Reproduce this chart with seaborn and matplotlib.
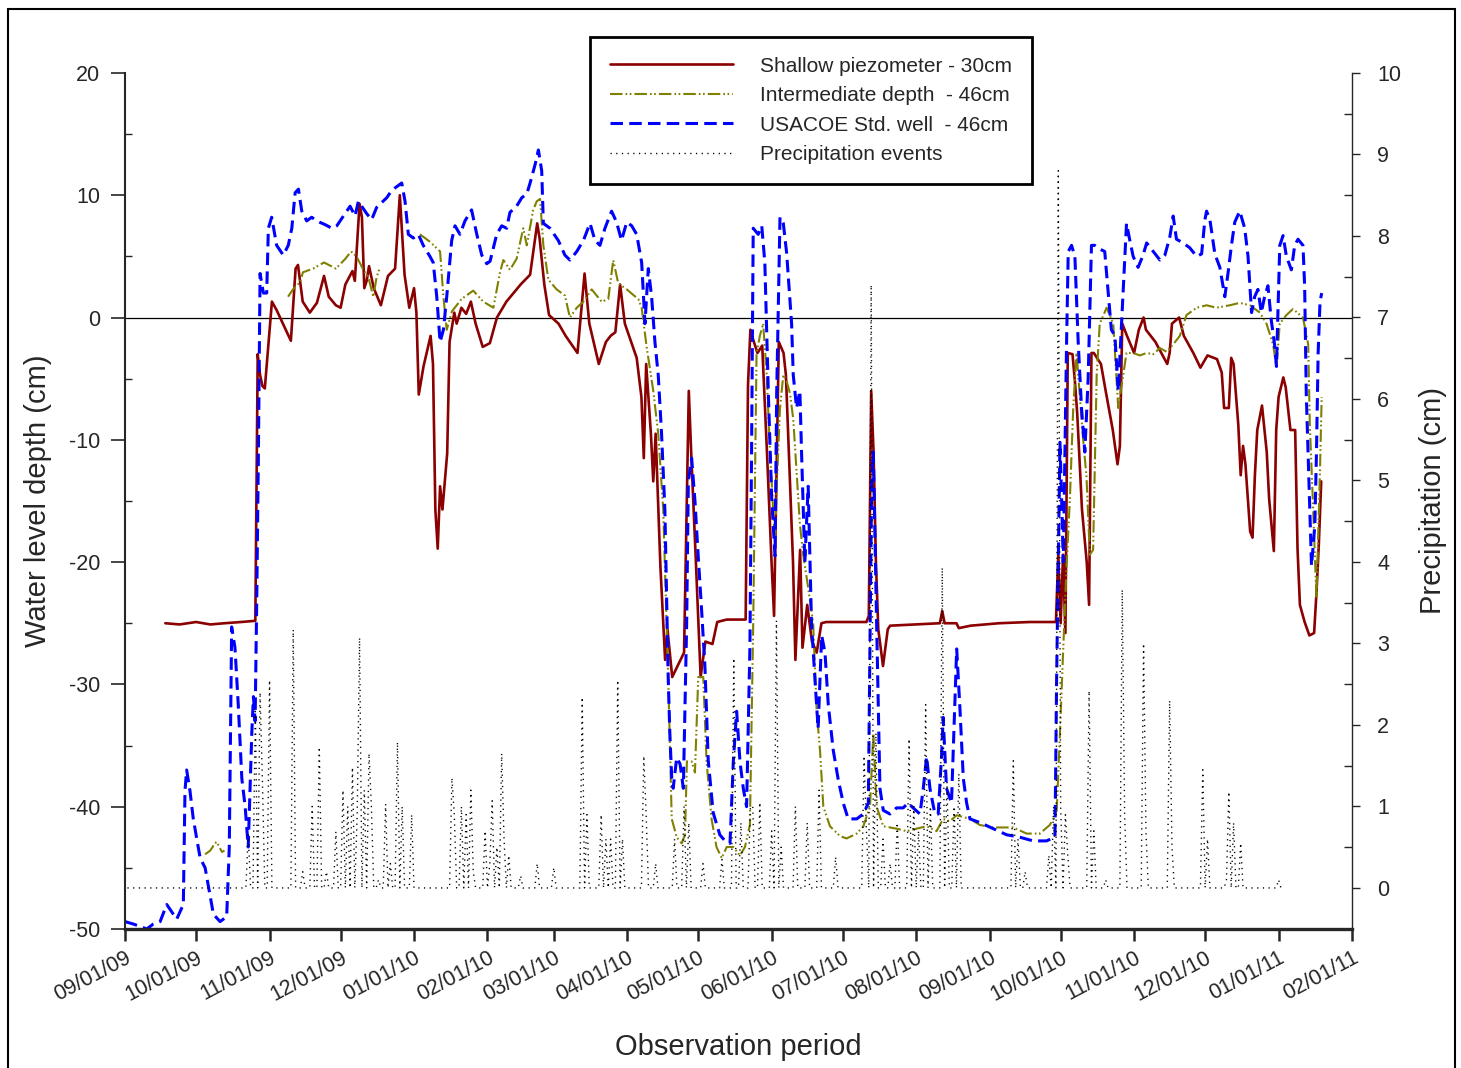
import pandas as pd
import numpy as np
import matplotlib
matplotlib.use('Agg')
import matplotlib.pyplot as plt
from matplotlib.ticker import MultipleLocator, FixedLocator
from matplotlib.lines import Line2D
from matplotlib.patches import Rectangle
import seaborn as sns

sns.set_style('ticks')
plt.rcParams['font.family'] = ['Liberation Sans', 'DejaVu Sans']
plt.rcParams['lines.scale_dashes'] = False
plt.rcParams['axes.unicode_minus'] = False

# days counted from 09/01/09
start = pd.Timestamp('2009-09-01')

# Shallow piezometer - 30cm
shallow_day = [17, 23, 30, 36, 42, 49, 55, 56, 57, 58, 59, 62, 64, 70, 72, 73, 75, 78, 81, 84, 86, 89, 91,
               93, 96, 97, 99, 100, 101, 102, 103, 105, 108, 111, 114, 116, 118, 120, 122, 123, 124, 126, 129,
               130, 131, 132, 133, 134, 136, 137, 139, 140, 142, 144, 146, 148, 151, 154, 157, 161, 167, 171,
               174, 175, 177, 179, 183, 186, 191, 194, 196, 200, 203, 205, 207, 209, 211, 216, 218, 219, 220,
               222, 223, 224, 226, 228, 229, 231, 234, 236, 238, 239, 241, 243, 245, 248, 250, 254, 262, 263,
               264, 265, 267, 269, 271, 273, 274, 276, 278, 279, 282, 283, 285, 286, 288, 290, 292, 294, 296,
               313, 314, 315, 316, 317, 318, 320, 322, 323, 344, 345, 346, 351, 352, 357, 369, 382, 393, 394,
               395, 396, 397, 398, 400, 401, 402, 404, 406, 407, 408, 409, 412, 414, 417, 419, 420, 421, 423,
               426, 428, 430, 431, 435, 440, 441, 442, 445, 447, 451, 454, 457, 461, 463, 464, 466, 467, 468,
               470, 471, 472, 473, 475, 476, 477, 478, 480, 482, 483, 485, 486, 487, 489, 490, 492, 494, 495,
               496, 498, 500, 502, 503, 504, 505]
shallow_cm = [-25.0, -25.1, -24.9, -25.1, -25.0, -24.9, -24.8, -3.0, -4.7, -5.6, -5.8, 1.3, 0.6, -1.9, 4.0,
              4.3, 1.3, 0.4, 1.2, 3.4, 1.7, 1.0, 0.8, 2.7, 3.8, 3.0, 9.3, 8.2, 2.4, 3.0, 4.2, 2.4, 1.0, 3.4,
              4.0, 10.0, 3.5, 0.8, 2.4, 0.4, -6.3, -4.0, -1.5, -3.8, -15.7, -18.9, -13.8, -15.7, -11.1, -2.0,
              0.4, -0.5, 0.8, 0.3, 1.3, -0.5, -2.4, -2.1, 0.0, 1.3, 2.7, 3.5, 7.7, 6.5, 2.7, 0.2, -0.5, -1.5,
              -2.9, 3.6, -0.5, -3.8, -2.0, -1.5, -1.2, 2.7, -0.5, -3.3, -6.5, -11.5, -3.8, -9.5, -13.4, -9.5,
              -20.3, -28.0, -25.5, -29.4, -28.2, -27.4, -6.0, -11.0, -20.0, -29.4, -26.5, -26.7, -24.9, -24.7,
              -24.7, -5.5, -1.0, -1.7, -2.9, -2.3, -11.0, -20.3, -24.4, -2.0, -2.9, -4.7, -20.0, -28.0, -19.0,
              -27.0, -23.5, -26.5, -27.4, -25.0, -24.9, -24.9, -24.4, -6.0, -11.0, -20.0, -25.5, -28.5, -25.5,
              -25.2, -25.0, -24.0, -25.0, -25.0, -25.4, -25.2, -25.0, -24.9, -24.9, -19.4, -25.0, -19.4, -25.8,
              -2.9, -3.0, -5.2, -7.9, -15.7, -20.0, -23.5, -2.9, -2.9, -3.8, -6.0, -9.2, -12.0, -10.5, -0.5,
              -1.5, -2.9, -1.0, 0.0, -1.0, -2.0, -3.8, -2.9, -0.5, 0.0, -1.5, -2.9, -4.1, -3.1, -3.4, -4.5,
              -7.4, -7.4, -3.3, -3.8, -8.8, -12.9, -10.5, -12.0, -17.5, -18.0, -12.9, -9.2, -7.2, -11.0, -14.8,
              -19.1, -9.2, -6.5, -4.9, -5.7, -9.2, -9.2, -18.9, -23.5, -24.9, -26.0, -25.8, -22.5, -18.5, -13.4]

# Intermediate depth - 46cm (three recorded stretches)
inter_seg = [1] * 8 + [2] * 15 + [3] * 151
inter_day = [33.8, 35.9, 37.0, 37.6, 38.8, 39.5, 40.9, 42.0,
             68.8, 70.9, 73.9, 75.1, 79.4, 84.0, 89.0, 93.0, 95.4, 97.7, 100.6, 102.7, 104.8, 106.2, 107.6,
             124.5, 128.7, 133.0, 134.4, 135.8, 138.0, 142.0, 147.0, 151.2, 155.5, 158.3, 159.7, 162.5, 165.3,
             168.1, 169.6, 172.3, 173.8, 175.2, 176.6, 178.7, 182.2, 185.7, 187.8, 190.7, 193.5, 197.0, 201.2,
             204.0, 206.1, 208.2, 211.8, 216.7, 218.1, 220.2, 223.0, 225.1, 227.2, 228.6, 229.3, 230.8, 232.9,
             235.0, 236.4, 237.2, 239.2, 240.6, 242.0, 244.1, 245.5, 247.6, 249.7, 251.9, 254.0, 256.8, 259.6,
             261.7, 263.8, 265.2, 266.6, 268.0, 269.4, 270.9, 272.3, 274.4, 275.1, 276.5, 277.9, 279.3, 280.7,
             282.1, 284.9, 286.3, 288.4, 290.5, 292.0, 293.4, 294.8, 297.6, 301.8, 304.6, 308.9, 311.7, 314.5,
             315.9, 317.3, 320.1, 325.7, 329.9, 334.2, 338.4, 342.6, 345.4, 348.2, 351.1, 356.7, 360.9, 366.5,
             375.0, 380.6, 386.2, 390.4, 393.3, 394.7, 396.1, 397.5, 398.9, 400.3, 401.7, 403.1, 404.5, 405.9,
             407.3, 408.7, 410.2, 411.5, 414.4, 417.2, 419.3, 421.4, 422.8, 425.6, 428.4, 431.3, 434.1, 436.9,
             439.7, 442.5, 445.3, 448.1, 452.4, 456.6, 460.8, 466.4, 470.6, 474.9, 479.1, 481.9, 484.7, 486.1,
             487.5, 490.3, 493.1, 497.3, 499.5, 500.2, 501.6, 503.0, 503.7, 504.5, 505.2]
inter_cm = [-43.9, -43.6, -43.3, -43.0, -42.9, -43.2, -43.7, -43.6,
            1.7, 2.3, 2.9, 3.7, 4.0, 4.5, 4.0, 4.8, 5.4, 5.0, 3.9, 3.3, 1.7, 3.3, 4.1,
            6.8, 6.2, 5.4, 1.7, -1.0, 0.5, 1.5, 2.2, 1.3, 0.8, 3.7, 4.7, 3.9, 4.8, 7.3, 5.9, 8.8, 9.5, 9.7,
            5.9, 3.1, 2.3, 1.8, 0.0, 0.8, 1.3, 2.3, 1.3, 1.5, 4.7, 2.8, 2.3, 1.5, 0.8, -2.4, -6.0, -9.5,
            -15.7, -25.0, -29.4, -41.0, -42.5, -43.0, -42.3, -36.3, -36.3, -37.2, -29.4, -29.4, -36.3, -41.0,
            -43.3, -44.2, -43.3, -43.3, -44.0, -43.3, -41.5, -25.0, -3.0, -1.5, -0.5, -4.7, -11.0, -18.5,
            -14.0, -7.4, -4.7, -5.2, -6.2, -8.3, -16.9, -19.4, -22.1, -25.0, -32.2, -35.4, -40.0, -41.6,
            -42.4, -42.6, -42.2, -41.6, -40.0, -34.0, -40.0, -41.6, -41.8, -42.0, -41.8, -41.6, -42.0, -41.0,
            -41.2, -40.7, -41.0, -41.5, -41.7, -41.7, -42.2, -42.2, -41.5, -40.5, -34.0, -27.0, -20.3, -14.8,
            -7.4, -2.9, -6.5, -10.0, -13.0, -19.4, -19.0, -4.7, -0.5, 0.8, -0.5, -7.4, -4.7, -2.9, -2.9,
            -3.1, -2.9, -3.0, -2.5, -2.8, -2.2, -1.5, 0.2, 0.8, 1.0, 0.8, 1.0, 1.2, 1.0, 0.4, -0.5, -2.2,
            -4.1, -0.5, 0.2, 0.7, 0.0, -2.2, -8.8, -15.7, -23.0, -18.0, -12.3, -6.5]

# USACOE Std. well - 46cm
usacoe_day = [0.0, 3.5, 9.2, 11.9, 14.8, 17.6, 19.7, 21.8, 23.2, 24.6, 25.3, 26.0, 27.4, 28.8, 31.7, 33.8,
              35.2, 37.3, 40.1, 42.9, 44.0, 45.0, 46.4, 47.8, 49.3, 50.7, 52.0, 53.5, 54.2, 54.9, 55.6, 56.3,
              57.0, 58.4, 59.8, 60.5, 61.9, 64.0, 66.8, 68.9, 70.4, 71.8, 73.2, 74.6, 76.7, 78.8, 80.9, 84.4,
              87.3, 89.4, 90.8, 92.9, 95.0, 97.1, 98.5, 102.0, 104.1, 106.2, 110.5, 112.6, 116.8, 118.2, 119.6,
              121.7, 123.8, 125.9, 128.7, 130.1, 131.6, 133.0, 134.4, 135.8, 137.9, 139.3, 141.4, 143.5, 146.3,
              148.5, 150.6, 152.7, 154.1, 156.9, 159.0, 161.1, 162.5, 165.3, 167.5, 169.6, 171.0, 173.1, 174.5,
              175.9, 176.6, 179.4, 182.9, 185.7, 187.8, 190.7, 193.5, 196.3, 198.4, 200.5, 202.6, 205.4, 207.5,
              209.6, 211.8, 213.9, 216.0, 218.1, 219.5, 220.9, 222.3, 223.7, 225.1, 226.5, 227.9, 229.3, 230.0,
              230.8, 231.4, 232.9, 234.3, 235.7, 237.1, 237.8, 239.2, 240.6, 242.0, 243.4, 244.8, 246.2, 248.3,
              251.1, 253.3, 255.4, 256.8, 258.2, 259.6, 261.0, 262.4, 263.8, 264.5, 265.2, 267.3, 268.8, 270.1,
              271.6, 273.0, 274.4, 275.1, 276.5, 277.9, 279.3, 281.4, 282.1, 283.5, 284.9, 285.6, 287.0, 288.4,
              289.8, 291.2, 292.6, 294.1, 295.5, 296.9, 299.0, 301.1, 303.2, 305.3, 308.9, 311.7, 313.8, 315.2,
              315.9, 317.3, 318.7, 320.1, 322.9, 325.7, 328.5, 330.6, 332.7, 335.6, 337.0, 338.4, 339.8, 341.9,
              343.3, 344.7, 345.4, 346.8, 348.9, 351.1, 352.4, 353.9, 355.3, 356.7, 360.9, 366.5, 372.2, 377.8,
              383.4, 389.0, 392.6, 393.3, 394.0, 394.7, 395.4, 396.1, 396.8, 397.5, 398.2, 399.6, 401.0, 402.4,
              403.8, 405.2, 406.6, 408.0, 409.4, 411.5, 413.6, 415.0, 416.4, 417.9, 419.3, 421.4, 422.8, 424.2,
              425.6, 427.7, 429.8, 431.3, 434.1, 436.9, 439.0, 441.1, 442.5, 443.9, 446.7, 449.5, 452.4, 454.5,
              455.9, 456.6, 458.0, 460.1, 462.2, 464.3, 465.7, 467.1, 468.5, 470.6, 472.7, 474.1, 475.6, 476.9,
              478.3, 479.7, 481.1, 482.5, 483.9, 485.3, 486.1, 487.5, 488.9, 490.3, 492.4, 493.8, 495.2, 497.3,
              498.0, 498.7, 500.2, 500.9, 502.3, 503.0, 503.7, 504.5, 505.2]
usacoe_cm = [-49.4, -49.6, -50.0, -49.6, -49.4, -48.0, -48.6, -49.2, -48.6, -48.0, -38.7, -37.0, -38.7, -41.0,
             -44.2, -45.0, -46.5, -48.8, -49.4, -49.0, -43.3, -25.3, -27.0, -31.7, -37.7, -40.0, -43.3, -34.0,
             -31.0, -33.0, -23.0, -11.0, 3.6, 2.0, 2.0, 7.3, 8.2, 5.9, 5.1, 5.9, 7.3, 10.2, 10.5, 8.7, 7.9, 8.2,
             7.9, 7.6, 7.3, 7.5, 7.9, 8.5, 9.1, 8.3, 9.5, 8.5, 8.0, 9.0, 9.8, 10.4, 11.0, 9.5, 6.8, 6.5, 6.8,
             5.9, 5.0, 4.5, 1.7, -2.0, -1.0, 1.7, 6.3, 7.5, 6.8, 7.9, 8.8, 6.8, 5.1, 4.4, 4.6, 6.8, 7.5, 7.3,
             8.6, 9.1, 9.8, 10.1, 11.0, 12.5, 13.7, 12.0, 7.7, 7.3, 6.3, 5.1, 4.7, 5.4, 6.3, 7.7, 6.3, 5.9, 7.3,
             8.7, 7.8, 6.3, 7.8, 7.5, 6.8, 4.5, -0.5, 4.0, 1.7, -2.0, -4.7, -9.5, -15.7, -29.4, -34.0, -37.7,
             -38.5, -36.0, -36.5, -38.5, -25.0, -13.4, -11.5, -15.0, -19.6, -23.9, -28.5, -36.2, -40.5, -42.3,
             -42.8, -43.0, -36.3, -32.2, -36.3, -38.5, -40.0, -27.0, -11.0, 7.3, 6.8, 7.5, 4.5, -6.3, -14.8,
             -19.5, -6.3, 8.2, 7.7, 5.3, -0.5, -4.7, -7.4, -6.0, -11.0, -20.0, -13.8, -25.0, -29.4, -33.6,
             -26.0, -27.4, -31.7, -35.4, -37.8, -39.7, -41.0, -41.0, -40.6, -39.7, -13.4, -11.0, -25.0, -38.5,
             -40.3, -40.6, -40.1, -40.1, -39.7, -40.1, -40.6, -38.5, -35.9, -38.5, -40.6, -40.6, -35.9, -32.7,
             -38.5, -39.7, -27.1, -31.7, -37.7, -39.7, -41.0, -41.3, -41.8, -42.3, -42.5, -42.8, -42.8, -42.5,
             -29.4, -20.0, -10.2, -14.8, -20.0, -11.0, -2.0, 5.4, 5.9, 5.0, -2.0, -7.4, -11.0, -5.0, 5.9, 5.9,
             5.6, 5.4, 2.2, -1.0, -1.5, -6.0, 2.2, 7.7, 6.3, 5.0, 4.1, 5.1, 6.1, 5.4, 4.7, 5.1, 6.6, 8.3, 6.4,
             6.1, 5.7, 5.0, 5.2, 8.0, 8.7, 8.0, 5.2, 4.1, 1.7, 3.7, 5.9, 7.8, 8.7, 7.3, 5.0, 0.4, 1.7, 2.3,
             0.4, 1.7, 2.6, -0.2, -2.2, -4.0, 5.9, 6.7, 5.0, 3.9, 5.9, 6.4, 5.9, 2.6, -6.3, -15.7, -20.3,
             -17.0, -11.0, -2.9, 1.3, 2.0]

# Precipitation events (cm), every other recorded day is 0
rain_day = [52, 55, 57, 58, 61, 71, 75, 79, 82, 85, 89, 92, 94, 96, 98, 99, 101, 103, 104, 107, 110, 112,
            115, 117, 121, 138, 139, 142, 144, 146, 147, 152, 154, 155, 157, 159, 160, 162, 167, 174, 181,
            193, 195, 201, 203, 205, 208, 210, 219, 220, 224, 232, 236, 238, 244, 252, 257, 260, 264, 265,
            268, 273, 275, 277, 283, 288, 293, 300, 312, 313, 315, 317, 320, 323, 326, 331, 333, 335, 338,
            340, 345, 347, 350, 352, 375, 377, 380, 390, 392, 394, 395, 397, 398, 407, 409, 414, 421, 422,
            430, 431, 441, 442, 455, 457, 465, 466, 468, 471, 487]
rain_cm = [0.66, 2.2, 2.4, 1.3, 2.55, 3.17, 0.2, 1.0, 1.73, 0.2, 0.69, 1.2, 1.0, 1.48, 0.9, 3.07, 1.2, 1.65,
           1.0, 0.1, 1.03, 0.3, 1.79, 1.0, 0.9, 1.35, 0.9, 1.0, 0.9, 1.2, 0.2, 0.7, 0.3, 1.07, 0.5, 1.65, 0.6,
           0.4, 0.15, 0.3, 0.25, 2.34, 0.9, 0.9, 0.6, 0.6, 2.55, 0.6, 1.62, 0.9, 0.3, 0.6, 1.0, 0.8, 0.3,
           0.35, 2.82, 0.8, 1.0, 1.0, 1.05, 0.7, 3.28, 0.5, 1.0, 0.8, 1.2, 0.38, 1.62, 0.7, 7.4, 1.9, 0.6,
           0.3, 0.8, 1.83, 1.0, 0.7, 2.25, 1.0, 3.93, 1.3, 1.0, 1.4, 1.56, 0.6, 0.2, 0.4, 1.0, 8.8, 1.0, 0.9,
           0.4, 2.42, 0.7, 0.1, 3.66, 0.9, 3.0, 0.7, 2.3, 0.5, 1.45, 0.6, 0.1, 1.18, 0.8, 0.55, 0.1]
rain_first, rain_last = 1, 488

month_ticks = pd.date_range('2009-09-01', '2011-02-01', freq='MS')


def to_dates(days):
    return start + pd.to_timedelta(np.asarray(days, dtype=float), unit='D')


shallow = pd.DataFrame({'date': to_dates(shallow_day), 'depth': shallow_cm})
inter = pd.DataFrame({'date': to_dates(inter_day), 'depth': inter_cm, 'seg': inter_seg})
usacoe = pd.DataFrame({'date': to_dates(usacoe_day), 'depth': usacoe_cm})
rain = pd.Series(rain_cm, index=rain_day).reindex(range(rain_first, rain_last + 1), fill_value=0.0)
precip = pd.DataFrame({'date': to_dates(rain.index), 'rain': rain.values})

red = '#8B0000'
olive = '#808000'
blue = '#0000FF'
ls_inter = (0, (9, 2.2, 1.2, 1.8, 1.2, 2.2))
ls_usacoe = (0, (9, 4.5))
ls_rain = (0, (0.9, 3.2))

fig = plt.figure(figsize=(14.61, 10.68), dpi=100)
ax = fig.add_axes([0.0856, 0.1302, 0.8398, 0.8015])
ax2 = ax.twinx()

# Precipitation on secondary axis
sns.lineplot(data=precip, x='date', y='rain', ax=ax2, color='black', lw=1.0,
             linestyle=ls_rain, estimator=None)

ax.axhline(0, color='black', lw=0.9, zorder=1)
sns.lineplot(data=shallow, x='date', y='depth', ax=ax, color=red, lw=1.9, estimator=None)
sns.lineplot(data=inter, x='date', y='depth', units='seg', estimator=None, ax=ax,
             color=olive, lw=1.5, linestyle=ls_inter)
sns.lineplot(data=usacoe, x='date', y='depth', ax=ax, color=blue, lw=2.2,
             linestyle=ls_usacoe, estimator=None)

# axes ranges and ticks
ax.set_xlim(start, pd.Timestamp('2011-02-01'))
ax.set_ylim(-50, 20)
ax2.set_ylim(-0.503, 10)

ax.set_xticks(month_ticks)
ax.set_xticklabels(month_ticks.strftime('%m/%d/%y'), rotation=28, ha='right',
                   rotation_mode='anchor')
ax.set_yticks(range(-50, 21, 10))
ax.yaxis.set_minor_locator(MultipleLocator(5))
ax2.set_yticks(range(0, 11))
ax2.yaxis.set_minor_locator(FixedLocator(np.arange(0.5, 10, 1.0)))

ax.tick_params(axis='x', which='major', direction='out', length=8.5, width=1.8, pad=5,
               labelsize=15.5, top=False)
ax.tick_params(axis='y', which='major', direction='out', length=10, width=1.2, pad=8,
               labelsize=15.5, right=False)
ax.tick_params(axis='y', which='minor', direction='in', length=5, width=1.0, right=False)
ax2.tick_params(axis='y', which='major', direction='out', length=6, width=1.0, pad=12,
                labelsize=15.5, left=False)
ax2.tick_params(axis='y', which='minor', direction='in', length=6, width=1.0, left=False)

for side in ['top', 'right']:
    ax.spines[side].set_visible(False)
for side in ['top', 'left', 'bottom']:
    ax2.spines[side].set_visible(False)
ax.spines['left'].set_linewidth(1.5)
ax.spines['bottom'].set_linewidth(2.4)
ax2.spines['right'].set_linewidth(1.0)

ax.set_xlabel('Observation period', fontsize=21)
ax.xaxis.set_label_coords(0.5, -0.121)
ax.set_ylabel('Water level depth (cm)', fontsize=21)
ax.yaxis.set_label_coords(-0.0595, 0.5)
ax2.set_xlabel('')
ax2.set_ylabel('Precipitation (cm)', fontsize=21)
ax2.yaxis.set_label_coords(1.0545, 0.5)

handles = [Line2D([], [], color=red, lw=1.9),
           Line2D([], [], color=olive, lw=1.5, linestyle=ls_inter),
           Line2D([], [], color=blue, lw=2.2, linestyle=ls_usacoe),
           Line2D([], [], color='black', lw=1.0, linestyle=ls_rain)]
labels = ['Shallow piezometer - 30cm', 'Intermediate depth  - 46cm',
          'USACOE Std. well  - 46cm', 'Precipitation events']
leg = fig.legend(handles, labels, loc='upper left', bbox_to_anchor=(590 / 1461, 1 - 37 / 1068),
                 fontsize=15, frameon=True, fancybox=False, edgecolor='black', framealpha=1,
                 handlelength=5.9, handletextpad=1.3, labelspacing=0.5, borderpad=0.95,
                 borderaxespad=0)
leg.get_frame().set_linewidth(2)

# outer frame of the picture
fig.add_artist(Rectangle((8 / 1461, -0.01), 1447 / 1461, 1059 / 1068 + 0.01,
                         transform=fig.transFigure, fill=False, edgecolor='black', lw=1.5))

fig.savefig('out.png', dpi=100)
